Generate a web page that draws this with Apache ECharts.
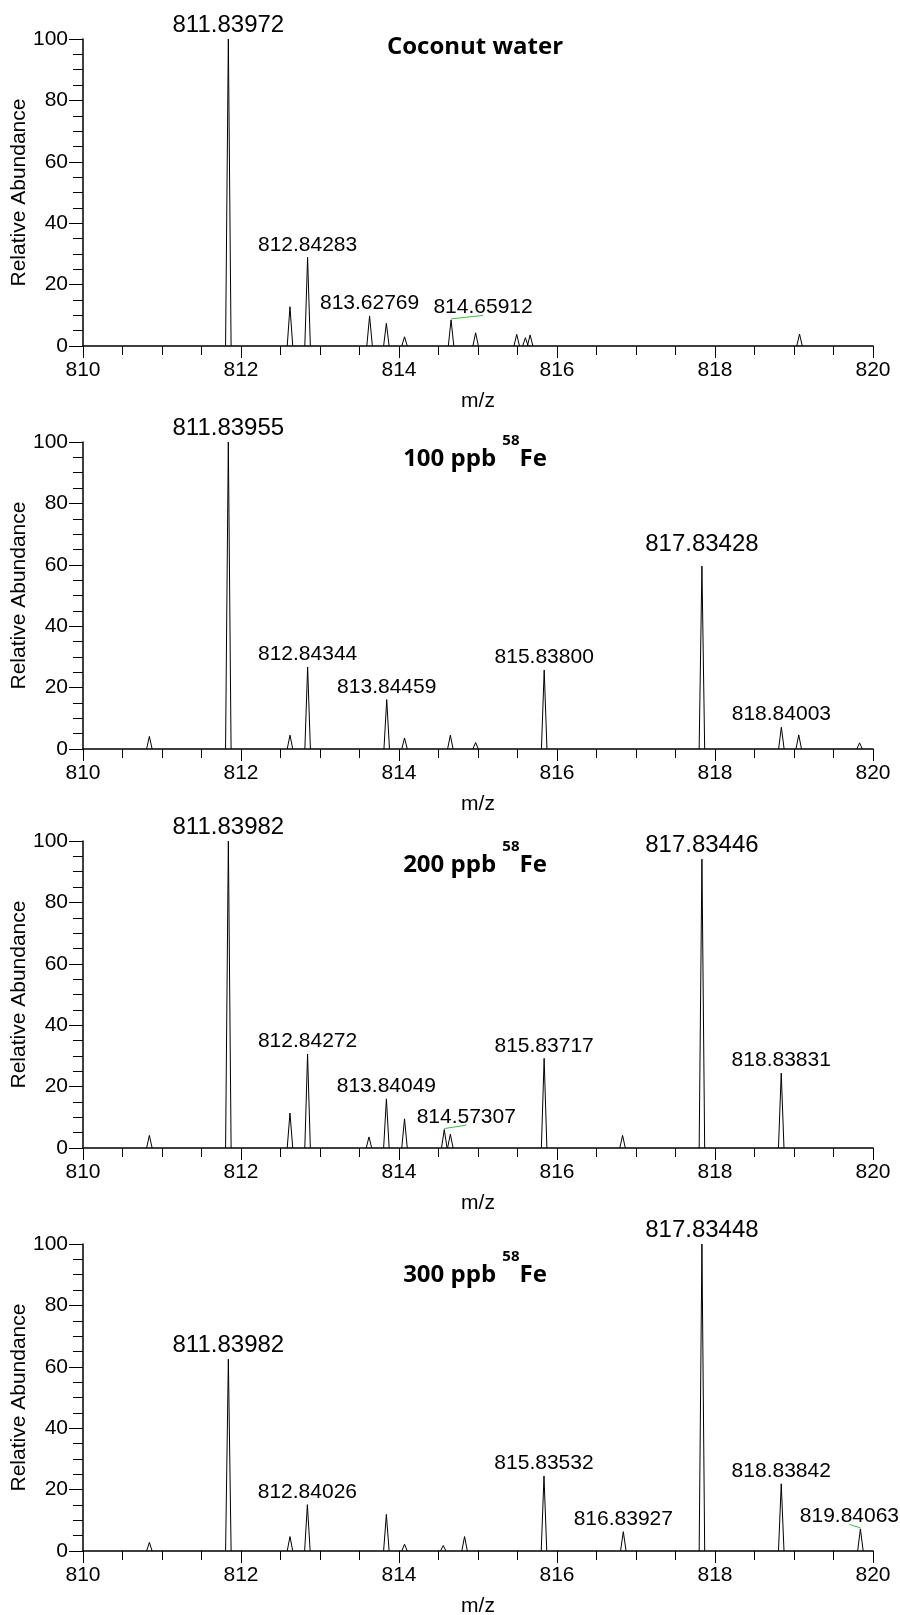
<!DOCTYPE html>
<html><head><meta charset="utf-8">
<script src="https://cdn.jsdelivr.net/npm/echarts@6/dist/echarts.min.js"></script>
<style>html,body{margin:0;padding:0;background:#fff}#chart{width:900px;height:1615px}</style>
</head><body><div id="chart"></div>
<script>
// ---------- data ----------
const xMin = 810, xMax = 820, xInterval = 2;
const yMin = 0, yMax = 100, yInterval = 20;
const xAxisName = 'm/z';
const yAxisName = 'Relative Abundance';

const panelTitles = ['Coconut water', '100 ppb ', '200 ppb ', '300 ppb '];
const titleIsotope = ['', '58', '58', '58'];
const titleElement = ['', 'Fe', 'Fe', 'Fe'];

const coconutMz = [811.83972, 812.62, 812.84283, 813.62769, 813.84, 814.07, 814.65912, 814.97, 815.49, 815.60, 815.66, 819.07];
const coconutAb = [100, 12.8, 28.9, 9.8, 7.4, 3.0, 8.5, 4.3, 3.8, 2.7, 3.6, 3.9];
const coconutLabels = ['811.83972', '', '812.84283', '813.62769', '', '', '814.65912', '', '', '', '', ''];

const fe100Mz = [810.84, 811.83955, 812.62, 812.84344, 813.84459, 814.07, 814.65, 814.97, 815.83800, 817.83428, 818.84003, 819.06, 819.83];
const fe100Ab = [4.1, 100, 4.5, 26.7, 16.1, 3.6, 4.5, 2.1, 25.7, 59.6, 7.1, 4.6, 2.0];
const fe100Labels = ['', '811.83955', '', '812.84344', '813.84459', '', '', '', '815.83800', '817.83428', '818.84003', '', ''];

const fe200Mz = [810.84, 811.83982, 812.62, 812.84272, 813.62, 813.84049, 814.07, 814.57307, 814.65, 815.83717, 816.83, 817.83446, 818.83831];
const fe200Ab = [4.1, 100, 11.4, 30.6, 3.6, 16.0, 9.5, 6.0, 4.5, 29.2, 4.1, 94.1, 24.4];
const fe200Labels = ['', '811.83982', '', '812.84272', '', '813.84049', '', '814.57307', '', '815.83717', '', '817.83446', '818.83831'];

const fe300Mz = [810.84, 811.83982, 812.62, 812.84026, 813.84, 814.07, 814.56, 814.83, 815.83532, 816.83927, 817.83448, 818.83842, 819.84063];
const fe300Ab = [2.8, 62.5, 4.7, 15.1, 11.9, 2.2, 1.8, 4.7, 24.4, 6.3, 100, 21.9, 7.2];
const fe300Labels = ['', '811.83982', '', '812.84026', '', '', '', '', '815.83532', '816.83927', '817.83448', '818.83842', '819.84063'];

const panelMz = [coconutMz, fe100Mz, fe200Mz, fe300Mz];
const panelAb = [coconutAb, fe100Ab, fe200Ab, fe300Ab];
const panelLabels = [coconutLabels, fe100Labels, fe200Labels, fe300Labels];

// ---------- layout / style ----------
const gridTops = [39, 442, 841, 1244];
const gridH = 307;
const titleTops = [21, 433, 839, 1249];
const HW = 0.035; // half width of drawn peak, m/z units
const FONT = 'Liberation Sans, Arial, sans-serif';
const TFONT = 'Open Sans, sans-serif';
// label pixel offsets for labels displaced from their peaks (with connector)
const labelShift = {
  '0:814.65912': [32, 0, true],
  '1:817.83428': [0, -8, false],
  '2:814.57307': [22, 0, true],
  '3:819.84063': [-11, 0, true]
};

const chart = echarts.init(document.getElementById('chart'), null, {renderer: 'canvas'});

const grids = [], xAxes = [], yAxes = [], series = [], titles = [];
for (let i = 0; i < 4; i++) {
  grids.push({left: 83, right: 27, top: gridTops[i], height: gridH, containLabel: false, outerBoundsMode: 'none'});
  xAxes.push({
    type: 'value', gridIndex: i, min: xMin, max: xMax, interval: xInterval,
    name: xAxisName, nameLocation: 'middle', nameGap: 45, nameMoveOverlap: false,
    nameTextStyle: {fontFamily: FONT, fontSize: 21, color: '#000'},
    axisLine: {show: true, onZero: false, lineStyle: {color: '#000', width: 1.5}},
    axisTick: {show: true, length: 12, lineStyle: {color: '#000', width: 1}},
    minorTick: {show: true, splitNumber: 4, length: 9, lineStyle: {color: '#000', width: 1}},
    splitLine: {show: false},
    axisLabel: {fontFamily: FONT, fontSize: 21, color: '#000', margin: 14}
  });
  yAxes.push({
    type: 'value', gridIndex: i, min: yMin, max: yMax, interval: yInterval,
    name: yAxisName, nameLocation: 'middle', nameGap: 53, nameMoveOverlap: false,
    nameTextStyle: {fontFamily: FONT, fontSize: 21, color: '#000'},
    axisLine: {show: true, lineStyle: {color: '#000', width: 1.5}},
    axisTick: {show: true, length: 14, lineStyle: {color: '#000', width: 1}},
    minorTick: {show: true, splitNumber: 4, length: 10, lineStyle: {color: '#000', width: 1}},
    splitLine: {show: false},
    axisLabel: {fontFamily: FONT, fontSize: 21, color: '#000', margin: 15}
  });

  const peaks = panelMz[i].map((m, k) => [m, panelAb[i][k]]);
  series.push({
    type: 'custom', xAxisIndex: i, yAxisIndex: i, silent: true, clip: false,
    data: peaks,
    renderItem: function (params, api) {
      const x = api.value(0), y = api.value(1);
      return {
        type: 'polyline',
        shape: {points: [api.coord([x - HW, 0]), api.coord([x, y]), api.coord([x + HW, 0])]},
        style: {stroke: '#000', fill: null, lineWidth: 1}
      };
    }
  });

  const labelData = [];
  panelLabels[i].forEach((t, k) => {
    if (!t) return;
    const sh = labelShift[i + ':' + t];
    labelData.push({
      value: [panelMz[i][k], panelAb[i][k]],
      label: {
        show: true, position: 'top', distance: 2,
        formatter: t,
        fontFamily: FONT, color: '#000', textBorderWidth: 0, opacity: 1,
        fontSize: panelAb[i][k] > 50 ? 24 : 21,
        offset: sh ? [sh[0], sh[1]] : [0, 0]
      }
    });
  });
  series.push({
    type: 'scatter', xAxisIndex: i, yAxisIndex: i, silent: true,
    symbol: 'circle', symbolSize: 0.1, itemStyle: {color: '#000', opacity: 1},
    data: labelData
  });

  const txt = titleIsotope[i]
    ? '{b|' + panelTitles[i] + '}{s|' + titleIsotope[i] + '}{b|' + titleElement[i] + '}'
    : '{b|' + panelTitles[i] + '}';
  titles.push({
    text: txt, left: 475, top: titleTops[i], padding: 0,
    textAlign: 'center', textVerticalAlign: 'top',
    textStyle: {
      rich: {
        b: {fontFamily: TFONT, fontWeight: 'bold', fontSize: 24, lineHeight: 52, color: '#000'},
        s: {fontFamily: TFONT, fontWeight: 'bold', fontSize: 15, lineHeight: 20, verticalAlign: 'top', color: '#000'}
      }
    }
  });
}

chart.setOption({
  animation: false,
  backgroundColor: '#fff',
  title: titles,
  grid: grids, xAxis: xAxes, yAxis: yAxes, series: series
});

// green connector lines from displaced labels to their peaks
const graphics = [];
for (let i = 0; i < 4; i++) {
  panelLabels[i].forEach((t, k) => {
    const sh = t && labelShift[i + ':' + t];
    if (!sh || !sh[2]) return;
    const p = chart.convertToPixel({gridIndex: i}, [panelMz[i][k], panelAb[i][k]]);
    graphics.push({
      type: 'line', silent: true,
      shape: {x1: p[0], y1: p[1] - 1, x2: p[0] + sh[0], y2: p[1] - 4.5},
      style: {stroke: '#3dbb3d', lineWidth: 1}
    });
  });
}
chart.setOption({graphic: graphics});
</script>
</body></html>
